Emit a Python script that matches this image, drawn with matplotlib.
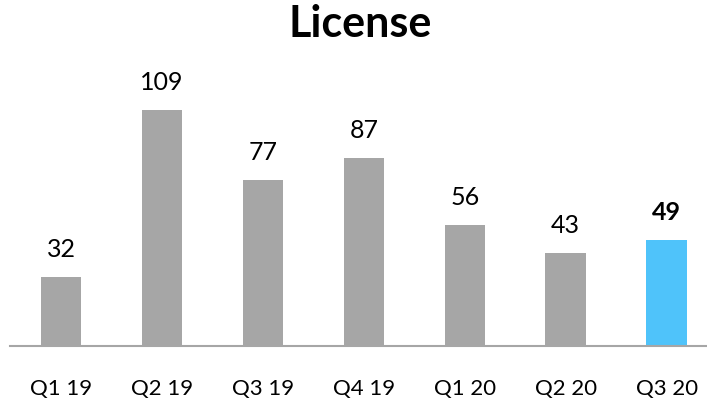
import matplotlib
matplotlib.use("Agg")
import matplotlib.pyplot as plt

categories = ["Q1 19", "Q2 19", "Q3 19", "Q4 19", "Q1 20", "Q2 20", "Q3 20"]
values = [32, 109, 77, 87, 56, 43, 49]
highlight = "Q3 20"

plt.rcParams['font.family'] = ['Lato', 'DejaVu Sans']

fig = plt.figure(figsize=(7.07, 4.03), dpi=100)
ax = fig.add_axes([10/707, 57/403, 697/707, 281/403])

x = list(range(len(categories)))
colors = ["#4FC3FA" if c == highlight else "#A6A6A6" for c in categories]
bars = ax.bar(x, values, width=0.40, color=colors, zorder=2)

for xi, v, c in zip(x, values, categories):
    ax.annotate(str(v), (xi, v), xytext=(0, 14.4), textcoords="offset points",
                ha="center", va="baseline", fontsize=18,
                fontweight="bold" if c == highlight else "normal")

ax.set_xlim(-0.505, 6.40)
ax.set_ylim(0, 130)
ax.set_xticks(x)
ax.set_xticklabels(categories, fontsize=16)
ax.tick_params(axis='x', length=0, pad=24)
ax.set_yticks([])
for s in ["top", "right", "left"]:
    ax.spines[s].set_visible(False)
ax.spines["bottom"].set_color("#A6A6A6")
ax.spines["bottom"].set_linewidth(1.5)

fig.text(360/707, 1 - 24/403, "License", ha="center", va="center",
         fontsize=31, fontweight="bold")

fig.savefig("out.png", dpi=100)
